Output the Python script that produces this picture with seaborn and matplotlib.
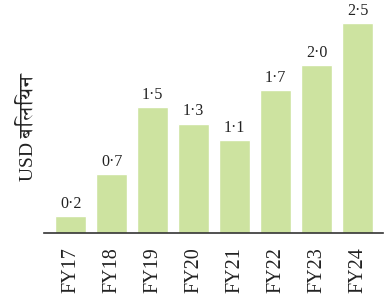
import matplotlib
matplotlib.use("Agg")
import matplotlib.pyplot as plt
import seaborn as sns
import pandas as pd
from matplotlib import font_manager

years = ["FY17", "FY18", "FY19", "FY20", "FY21", "FY22", "FY23", "FY24"]
values = [0.2, 0.7, 1.5, 1.3, 1.1, 1.7, 2.0, 2.5]
labels = ["0·2", "0·7", "1·5", "1·3", "1·1", "1·7", "2·0", "2·5"]
ylabel = "USD बिलियन"

# find a font with Devanagari glyphs
deva = None
try:
    from fontTools.ttLib import TTFont
    for f in font_manager.fontManager.ttflist:
        try:
            tt = TTFont(f.fname, fontNumber=0, lazy=True)
            cmap = tt.getBestCmap()
            if cmap and 0x092C in cmap:
                deva = f.name
                if "Serif" in f.name:
                    break
        except Exception:
            continue
except Exception:
    pass

sns.set_theme(style="white")
fams = ["Liberation Serif"] + ([deva] if deva else []) + ["DejaVu Serif"]
plt.rcParams["font.family"] = fams

df = pd.DataFrame({"year": years, "value": values})
fig = plt.figure(figsize=(3.84, 2.97), dpi=100)
ax = fig.add_axes([44/384, 1 - 233/297, 339/384, 233/297])
sns.barplot(data=df, x="year", y="value", color="#cde3a0", saturation=1,
            width=0.76, ax=ax)
ax.bar_label(ax.containers[0], labels=labels, padding=3, fontsize=11.5,
             color="#222222")
ax.set_xlim(-0.65, 7.62)
ax.set_ylim(0, 2.77)
ax.set_xlabel("")
ax.set_yticks([])
ax.set_ylabel(ylabel, fontsize=14, color="#222222")
ax.yaxis.set_label_coords(-0.022, 0.455)
for s in ["top", "right", "left"]:
    ax.spines[s].set_visible(False)
ax.spines["bottom"].set_color("#333333")
ax.spines["bottom"].set_linewidth(1.2)
ax.tick_params(axis="x", length=0, pad=10, labelsize=14.5, labelcolor="#222222")
for t in ax.get_xticklabels():
    t.set_rotation(90)
fig.savefig("out.png", dpi=100)
